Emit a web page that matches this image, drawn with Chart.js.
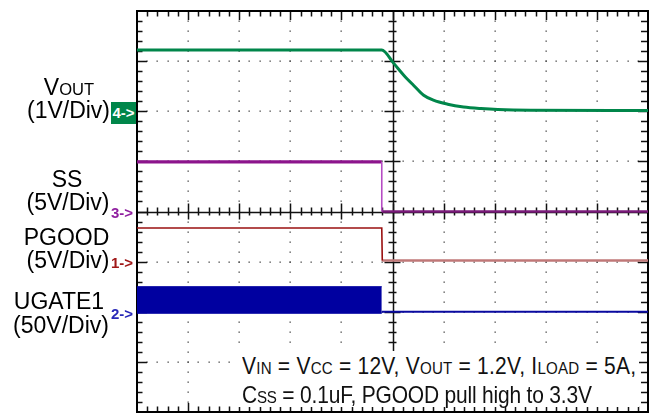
<!DOCTYPE html>
<html>
<head>
<meta charset="utf-8">
<script src="https://cdn.jsdelivr.net/npm/chart.js@4.4.1/dist/chart.umd.min.js"></script>
<style>
html, body { margin: 0; padding: 0; background: #fff; }
#wrap { position: relative; width: 657px; height: 414px; overflow: hidden; font-family: "Liberation Sans", Arial, sans-serif; }
#scope { position: absolute; left: 0; top: 0; }
.lbl { position: absolute; font-size: 23px; line-height: 23px; color: #000; white-space: nowrap; transform: translateX(-50%); }
.sm { font-size: 0.72em; }
.mk { position: absolute; font-size: 15px; line-height: 15px; font-weight: bold; white-space: nowrap; }
#notebox { position: absolute; left: 238px; top: 351px; width: 401px; height: 56px; background: #fff; }
.note { position: absolute; left: 242px; font-size: 21px; line-height: 21px; color: #111; white-space: nowrap; transform-origin: 0 17.8px; transform: scaleY(1.1); }
</style>
</head>
<body>
<div id="wrap">
  <canvas id="scope" width="657" height="414"></canvas>

  <div class="lbl" style="left:69px;top:75.5px">V<span class="sm">OUT</span></div>
  <div class="lbl" style="left:68.5px;top:98.5px">(1V/Div)</div>
  <div class="lbl" style="left:67px;top:167.5px">SS</div>
  <div class="lbl" style="left:68px;top:190.5px">(5V/Div)</div>
  <div class="lbl" style="left:66.5px;top:225.5px">PGOOD</div>
  <div class="lbl" style="left:68px;top:248.5px">(5V/Div)</div>
  <div class="lbl" style="left:59px;top:289.5px">UGATE1</div>
  <div class="lbl" style="left:61px;top:313.5px">(50V/Div)</div>

  <div class="mk" style="left:111px;top:102px;width:25px;height:22px;line-height:22px;background:#00864a;color:#fff;text-align:center">4-&gt;</div>
  <div class="mk" style="left:111px;top:205px;color:#9020a0">3-&gt;</div>
  <div class="mk" style="left:111px;top:255px;color:#a01818">1-&gt;</div>
  <div class="mk" style="left:111px;top:305.5px;color:#2828b8">2-&gt;</div>

  <div id="notebox"></div>
  <div class="note" style="top:355.5px;letter-spacing:0.22px">V<span class="sm">IN</span> = V<span class="sm">CC</span> = 12V, V<span class="sm">OUT</span> = 1.2V, I<span class="sm">LOAD</span> = 5A,</div>
  <div class="note" style="top:385px;letter-spacing:-0.2px">C<span class="sm">SS</span> = 0.1uF, PGOOD pull high to 3.3V</div>
</div>

<script>
// time axis in divisions (10 div across), values in volts
var vout_t = [0, 4.79, 5.02, 5.22, 5.41, 5.61, 5.80, 6.08, 6.39, 6.73, 7.06, 7.71, 10];
var vout_v = [1.22, 1.22, 0.96, 0.72, 0.52, 0.32, 0.22, 0.14, 0.086, 0.054, 0.034, 0.02, 0.015];

var ss_high_t = [0, 4.79];
var ss_high_v = [4.95, 4.95];
var ss_drop_t = [4.79, 4.79];
var ss_drop_v = [4.95, 0];
var ss_low_t = [4.79, 10];
var ss_low_v = [0, 0];

var pgood_high_t = [0, 4.79, 4.80];
var pgood_high_v = [3.35, 3.35, 0.1];
var pgood_low_t = [4.80, 10];
var pgood_low_v = [0.1, 0.1];

var ugate_band_t = [0, 4.79];
var ugate_band_hi = [25, 25];
var ugate_band_lo = [-1.5, -1.5];
var ugate_low_t = [4.79, 10];
var ugate_low_v = [0.1, 0.1];

// channel ground marker (division) and V/div
var ch4 = { offset: 6, vdiv: 1 };   // VOUT
var ch3 = { offset: 4, vdiv: 5 };   // SS
var ch1 = { offset: 3, vdiv: 5 };   // PGOOD
var ch2 = { offset: 2, vdiv: 50 };  // UGATE1

function toDiv(t, v, ch) {
    return t.map(function (ti, i) { return { x: ti, y: ch.offset + v[i] / ch.vdiv }; });
}

function line(data, color, width, extra) {
    var ds = { data: data, borderColor: color, backgroundColor: color, borderWidth: width, fill: false, pointRadius: 0, tension: 0 };
    return Object.assign(ds, extra || {});
}

// scope graticule: dotted grid, border ticks, centre cross
var gridPlugin = {
    id: 'scopeGrid',
    beforeDatasetsDraw: function (chart) {
        var ctx = chart.ctx, a = chart.chartArea, x = chart.scales.x, y = chart.scales.y;
        ctx.save();
        ctx.fillStyle = '#444';
        for (var i = 1; i < 10; i++) {
            if (i == 5) continue;
            var px = Math.round(x.getPixelForValue(i));
            for (var k = 1; k < 40; k++) ctx.fillRect(px - 0.5, Math.round(y.getPixelForValue(k / 5)) - 0.5, 1.3, 1.3);
        }
        for (var j = 1; j < 8; j++) {
            if (j == 4) continue;
            var py = Math.round(y.getPixelForValue(j));
            for (var k = 1; k < 50; k++) ctx.fillRect(Math.round(x.getPixelForValue(k / 5)) - 0.5, py - 0.5, 1.3, 1.3);
        }

        ctx.strokeStyle = '#111';
        ctx.lineWidth = 1.5;
        ctx.beginPath();
        // top / bottom border ticks + vertical centre ticks
        var cx = x.getPixelForValue(5), cy = y.getPixelForValue(4);
        for (var k = 1; k < 50; k++) {
            var px = Math.round(x.getPixelForValue(k / 5)) + 0.5;
            var big = k % 5 == 0;
            ctx.moveTo(px, a.top); ctx.lineTo(px, a.top + (big ? 9 : 5.5));
            ctx.moveTo(px, a.bottom); ctx.lineTo(px, a.bottom - (big ? 9 : 5.5));
            ctx.moveTo(px, cy - (big ? 8 : 4)); ctx.lineTo(px, cy + (big ? 8 : 4));
        }
        for (var k = 1; k < 40; k++) {
            var py = Math.round(y.getPixelForValue(k / 5)) + 0.5;
            var big = k % 5 == 0;
            ctx.moveTo(a.left, py); ctx.lineTo(a.left + (big ? 10 : 5.5), py);
            ctx.moveTo(a.right, py); ctx.lineTo(a.right - (big ? 10 : 7), py);
            ctx.moveTo(cx - (big ? 8 : 4), py); ctx.lineTo(cx + (big ? 8 : 4), py);
        }
        ctx.stroke();

        ctx.lineWidth = 1.5;
        ctx.beginPath();
        ctx.moveTo(a.left, Math.round(cy) + 0.5); ctx.lineTo(a.right, Math.round(cy) + 0.5);
        ctx.moveTo(Math.round(cx) + 0.5, a.top); ctx.lineTo(Math.round(cx) + 0.5, a.bottom);
        ctx.stroke();

        ctx.lineWidth = 2;
        ctx.strokeStyle = '#000';
        ctx.strokeRect(a.left, a.top, a.right - a.left, a.bottom - a.top);
        ctx.restore();
    }
};

var datasets = [
    line(toDiv(ugate_band_t, ugate_band_hi, ch2), '#0000a0', 1, { fill: '+1', backgroundColor: '#0000a0' }),
    line(toDiv(ugate_band_t, ugate_band_lo, ch2), '#0000a0', 1),
    line(toDiv(ugate_low_t, ugate_low_v, ch2), '#0a0aa0', 2),
    line(toDiv(pgood_high_t, pgood_high_v, ch1), '#9a1010', 1.6),
    line(toDiv(pgood_low_t, pgood_low_v, ch1), '#c07878', 2.5),
    line(toDiv(ss_drop_t, ss_drop_v, ch3), '#b64cc4', 1.6),
    line(toDiv(ss_low_t, ss_low_v, ch3), '#7a1a7a', 2.5),
    line(toDiv(ss_high_t, ss_high_v, ch3), '#8c148c', 3.2),
    line(toDiv(vout_t, vout_v, ch4), '#00864a', 3, { cubicInterpolationMode: 'monotone' })
];

new Chart(document.getElementById('scope'), {
    type: 'line',
    data: { datasets: datasets },
    options: {
        responsive: false,
        animation: false,
        devicePixelRatio: 1,
        layout: { padding: { left: 137, right: 9, top: 11, bottom: 2 } },
        scales: {
            x: { type: 'linear', min: 0, max: 10, display: false },
            y: { type: 'linear', min: 0, max: 8, display: false }
        },
        elements: { line: { borderJoinStyle: 'miter', borderCapStyle: 'butt' } },
        plugins: { legend: { display: false }, tooltip: { enabled: false } }
    },
    plugins: [gridPlugin]
});
</script>
</body>
</html>
